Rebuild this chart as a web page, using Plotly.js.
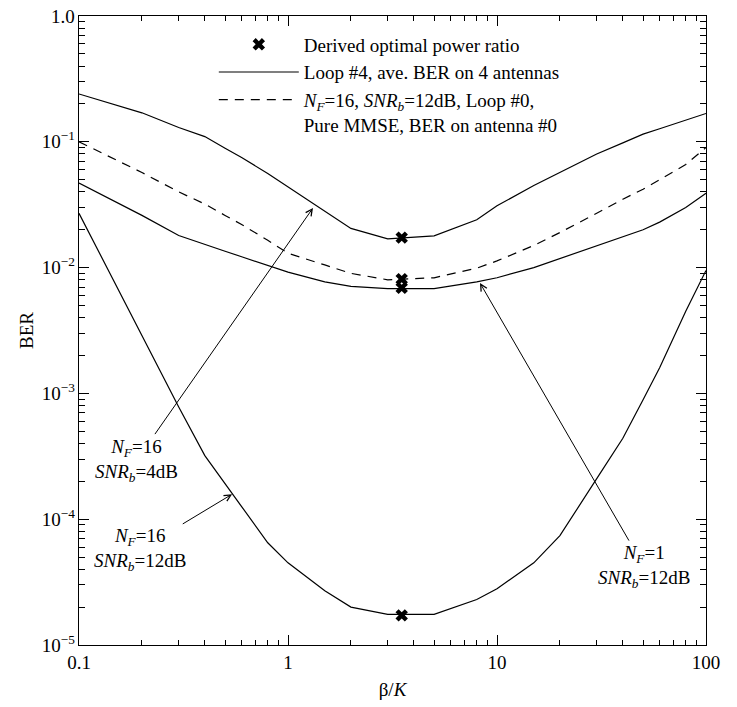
<!DOCTYPE html>
<html>
<head>
<meta charset="utf-8">
<script src="https://cdn.plot.ly/plotly-3.0.1.min.js"></script>
<style>html,body{margin:0;padding:0;background:#fff;}#chart{width:737px;height:707px;}</style>
</head>
<body>
<div id="chart"></div>
<script>
// beta/K values
const betaK = [0.1, 0.2, 0.3, 0.4, 0.5, 0.6, 0.8, 1, 1.5, 2, 3, 5, 8, 10, 15, 20, 30, 40, 50, 60, 80, 100];
// Loop #4, N_F=16, SNR_b=4dB
const berNF16snr4 = [0.24, 0.17, 0.13, 0.11, 0.089, 0.075, 0.056, 0.044, 0.028, 0.0205, 0.0169, 0.0179, 0.024, 0.031, 0.045, 0.057, 0.080, 0.098, 0.115, 0.127, 0.148, 0.168];
// Loop #0, pure MMSE, N_F=16, SNR_b=12dB (dashed)
const berMMSE = [0.10, 0.057, 0.040, 0.032, 0.026, 0.022, 0.0165, 0.0130, 0.0105, 0.0090, 0.0080, 0.0083, 0.0099, 0.0113, 0.0150, 0.019, 0.027, 0.035, 0.042, 0.050, 0.066, 0.09];
// Loop #4, N_F=1, SNR_b=12dB
const berNF1snr12 = [0.047, 0.026, 0.018, 0.0152, 0.0135, 0.0122, 0.0104, 0.0092, 0.0077, 0.0071, 0.0068, 0.0068, 0.0077, 0.0083, 0.0100, 0.0118, 0.0148, 0.0175, 0.020, 0.023, 0.030, 0.039];
// Loop #4, N_F=16, SNR_b=12dB
const berNF16snr12 = [0.027, 0.0029, 7.8e-4, 3.2e-4, 1.9e-4, 1.26e-4, 6.5e-5, 4.5e-5, 2.7e-5, 2.0e-5, 1.75e-5, 1.75e-5, 2.3e-5, 2.8e-5, 4.5e-5, 7.4e-5, 2.1e-4, 4.4e-4, 8.9e-4, 1.6e-3, 4.5e-3, 9.5e-3];
// derived optimal power ratio
const optX = [3.5, 3.5, 3.5, 3.5];
const optY = [0.0173, 0.0081, 0.0069, 1.72e-5];

const FONT = 'Liberation Serif, Times New Roman, serif';
const solid = {color: 'black', width: 1.2};

const traces = [
  {x: betaK, y: berNF16snr4, mode: 'lines', name: 'Loop #4, ave. BER on 4 antennas', legendrank: 2, line: solid},
  {x: betaK, y: berNF1snr12, mode: 'lines', showlegend: false, line: solid},
  {x: betaK, y: berNF16snr12, mode: 'lines', showlegend: false, line: solid},
  {x: betaK, y: berMMSE, mode: 'lines', legendrank: 3,
   name: '<i>N<sub>F</sub></i>=16, <i>SNR<sub>b</sub></i>=12dB, Loop #0,<br>Pure MMSE, BER on antenna #0',
   line: {color: 'black', width: 1.2, dash: '9px,7px'}},
  {x: optX, y: optY, mode: 'markers', name: 'Derived optimal power ratio', legendrank: 1,
   marker: {symbol: 'x', size: 11, color: 'black'}}
];

const annoFont = {family: FONT, size: 19, color: 'black'};
function arrowAnno(text, tx, ty, hx, hy) {
  return {x: Math.log10(hx), y: Math.log10(hy), ax: Math.log10(tx), ay: Math.log10(ty),
    xref: 'x', yref: 'y', axref: 'x', ayref: 'y', text: text, showarrow: true,
    arrowhead: 5, arrowsize: 1.3, arrowwidth: 1, arrowcolor: 'black', font: annoFont, align: 'center'};
}
const annotations = [
  arrowAnno('<i>N<sub>F</sub></i>=16<br><i>SNR<sub>b</sub></i>=4dB', 0.189, 2.95e-4, 1.317, 0.0298),
  arrowAnno('<i>N<sub>F</sub></i>=16<br><i>SNR<sub>b</sub></i>=12dB', 0.195, 5.7e-5, 0.54, 1.58e-4),
  arrowAnno('<i>N<sub>F</sub></i>=1<br><i>SNR<sub>b</sub></i>=12dB', 50.5, 4.2e-5, 8.29, 0.00755)
];

const layout = {
  width: 737, height: 707,
  margin: {l: 79, r: 31, t: 16, b: 62},
  font: {family: FONT, size: 19, color: 'black'},
  showlegend: true,
  legend: {x: 0.215, y: 0.985, xanchor: 'left', yanchor: 'top', bgcolor: 'rgba(0,0,0,0)',
    font: {family: FONT, size: 19, color: 'black'}, itemwidth: 80, valign: 'top',
    traceorder: 'normal'},
  xaxis: {
    type: 'log', range: [-1, 2], showline: true, linecolor: 'black', linewidth: 1.3, mirror: 'ticks',
    ticks: 'inside', ticklen: 10, tickwidth: 1.2, tickcolor: 'black', dtick: 1,
    tickfont: {family: FONT, size: 19, color: 'black'},
    gridcolor: 'rgba(0,0,0,0)',
    minor: {ticks: 'inside', ticklen: 5, tickwidth: 1.2, tickcolor: 'black', dtick: 'D1'},
    title: {text: 'β/<i>K</i>', font: {family: FONT, size: 19}, standoff: 10}
  },
  yaxis: {
    type: 'log', range: [-5, 0], showline: true, linecolor: 'black', linewidth: 1.3, mirror: 'ticks',
    ticks: 'inside', ticklen: 10, tickwidth: 1.2, tickcolor: 'black', dtick: 1,
    exponentformat: 'power', labelalias: {'1': '1.0'},
    tickfont: {family: FONT, size: 15.2, color: 'black'},
    gridcolor: 'rgba(0,0,0,0)',
    minor: {ticks: 'inside', ticklen: 6, tickwidth: 1.2, tickcolor: 'black'},
    title: {text: 'BER', font: {family: FONT, size: 19}, standoff: 3}
  },
  annotations: annotations
};

Plotly.newPlot('chart', traces, layout, {displayModeBar: false});
</script>
</body>
</html>
